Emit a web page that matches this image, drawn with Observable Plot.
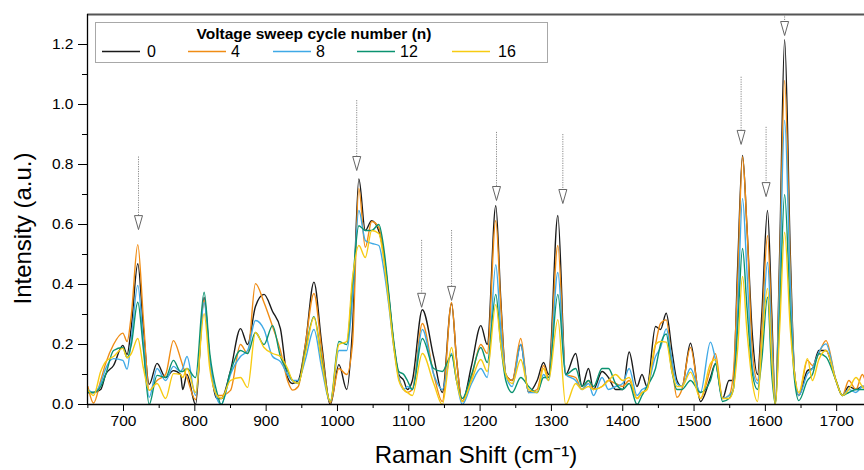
<!DOCTYPE html>
<html>
<head>
<meta charset="utf-8">
<script src="https://cdn.jsdelivr.net/npm/d3@7"></script>
<script src="https://cdn.jsdelivr.net/npm/@observablehq/plot@0.6"></script>
<style>
  body { margin: 0; background: white; }
  #wrap { position: relative; width: 864px; height: 470px; font-family: "Liberation Sans", Arial, sans-serif; }
  #legend { position: absolute; left: 0; top: 0; pointer-events: none; }
</style>
</head>
<body>
<div id="wrap"></div>
<script>
// Raman shift grid (cm^-1)
const wavenumber = [650,658,668,675,686,699,705,711,720,728,736,747,759,770,780,783,789,801,813,821,831,837,850,864,874,885,897,909,920,930,937,945,955,967,978,990,1002,1013,1021,1030,1039,1048,1058,1065,1072,1079,1086,1093,1098,1105,1119,1135,1147,1160,1167,1175,1188,1201,1210,1222,1229,1236,1245,1257,1268,1280,1289,1296,1309,1320,1334,1343,1352,1359,1371,1380,1390,1400,1409,1420,1427,1434,1446,1453,1461,1469,1476,1483,1495,1509,1523,1530,1540,1549,1555,1561,1568,1574,1582,1589,1595,1603,1609,1614,1620,1627,1635,1641,1647,1659,1666,1675,1685,1699,1708,1717,1727,1736,1740];

// Intensity (a.u.) for each voltage sweep cycle number
const n0  = [.04,.04,.05,.10,.13,.197,.167,.26,.469,.25,.067,.137,.09,.113,.10,.05,.10,.0,.357,.15,.02,.02,.113,.253,.20,.327,.367,.31,.253,.09,.07,.08,.2,.408,.2,.0,.133,.05,.25,.752,.58,.613,.578,.5,.36,.2,.1,.08,.05,.08,.316,.158,.04,.337,.15,.01,.13,.263,.2,.663,.35,.1,.08,.2,.04,.08,.14,.10,.63,.1,.17,.06,.12,.05,.11,.09,.05,.05,.175,.06,.10,.06,.26,.25,.304,.18,.08,.06,.204,.01,.09,.136,.02,.08,.08,.45,.83,.6,.224,.10,.3,.647,.3,.0,.5,1.216,.5,.102,.03,.113,.12,.18,.18,.08,.03,.06,.05,.06,.06];
const n4  = [.06,.005,.08,.137,.20,.238,.21,.30,.533,.28,.047,.08,.10,.213,.153,.13,.09,.016,.347,.15,.03,.03,.047,.20,.17,.403,.34,.26,.18,.08,.048,.06,.2,.37,.18,.005,.12,.10,.2,.72,.524,.61,.59,.5,.35,.2,.09,.05,.04,.05,.27,.10,.01,.34,.15,.01,.09,.20,.17,.613,.33,.1,.08,.22,.04,.05,.13,.09,.53,.1,.09,.05,.08,.05,.06,.08,.07,.06,.08,.02,.04,.05,.20,.27,.282,.136,.024,.05,.19,.02,.12,.169,.02,.03,.1,.4,.826,.6,.17,.08,.25,.563,.25,.0,.45,1.08,.45,.1,.03,.147,.13,.17,.213,.08,.03,.08,.05,.1,.08];
const n8  = [.05,.04,.07,.12,.153,.147,.118,.22,.397,.2,.024,.12,.08,.127,.11,.12,.16,.03,.34,.15,.02,.0,.10,.16,.18,.28,.25,.16,.143,.10,.08,.08,.15,.25,.12,.01,.18,.18,.35,.647,.547,.537,.53,.45,.33,.19,.09,.05,.06,.05,.25,.10,.05,.17,.08,.0,.07,.12,.09,.466,.25,.1,.06,.2,.04,.04,.10,.08,.44,.1,.08,.05,.07,.03,.09,.05,.06,.07,.12,.03,.05,.06,.16,.19,.252,.15,.07,.06,.12,.04,.208,.15,.02,.03,.05,.3,.687,.45,.12,.07,.2,.474,.2,.0,.4,.947,.4,.1,.03,.102,.12,.175,.202,.08,.03,.05,.04,.06,.06];
const n12 = [.04,.04,.06,.10,.18,.19,.156,.20,.341,.18,.0,.097,.09,.147,.11,.11,.12,.09,.374,.17,.04,.0,.11,.18,.17,.24,.20,.263,.16,.113,.08,.07,.18,.293,.15,.01,.21,.20,.4,.596,.58,.58,.60,.52,.37,.21,.11,.10,.08,.05,.22,.12,.11,.165,.08,.02,.10,.19,.14,.367,.2,.08,.04,.09,.06,.04,.09,.09,.367,.1,.12,.06,.08,.06,.12,.12,.07,.05,.07,.0,.03,.06,.12,.2,.235,.11,.05,.05,.08,.04,.08,.136,.01,.02,.05,.25,.52,.33,.10,.05,.15,.358,.1,.0,.3,.70,.3,.08,.013,.08,.10,.169,.158,.08,.03,.04,.05,.05,.05];
const n16 = [.05,.03,.11,.143,.16,.187,.156,.17,.22,.12,.047,.07,.02,.103,.10,.09,.12,.04,.303,.12,.03,.02,.08,.09,.057,.24,.19,.17,.16,.12,.08,.07,.17,.29,.14,.01,.20,.21,.42,.53,.49,.58,.57,.48,.34,.19,.08,.05,.04,.03,.17,.07,.0,.19,.08,.01,.08,.15,.11,.333,.2,.1,.07,.15,.05,.04,.12,.08,.283,.0,.07,.05,.06,.05,.06,.08,.10,.08,.09,.02,.04,.05,.20,.21,.208,.11,.06,.06,.108,.02,.136,.15,.02,.02,.05,.18,.427,.25,.07,.01,.2,.387,.15,.0,.25,.574,.25,.1,.04,.153,.08,.15,.18,.08,.03,.05,.09,.06,.05];

const cycles = ["0", "4", "8", "12", "16"];
const colors = ["#1a1a1a", "#f08c14", "#3fa9e6", "#0a9270", "#f7cb12"];
const series = [n0, n4, n8, n12, n16];

// Marked bands (dotted arrows)
const arrowX   = [721, 1027, 1118, 1160, 1223, 1316, 1566, 1601, 1627];
const arrowTop = [0.825, 1.013, 0.547, 0.58, 0.907, 0.90, 1.091, 0.924, 1.30];
const arrowTip = [0.583, 0.78, 0.324, 0.347, 0.68, 0.67, 0.867, 0.693, 1.23];

const xTicks = [700, 800, 900, 1000, 1100, 1200, 1300, 1400, 1500, 1600, 1700];
const xMinor = [650, 750, 850, 950, 1050, 1150, 1250, 1350, 1450, 1550, 1650];
const yTicks = [0, 0.2, 0.4, 0.6, 0.8, 1.0, 1.2];
const yMinor = [0.1, 0.3, 0.5, 0.7, 0.9, 1.1];

const rows = cycles.flatMap((c, i) => wavenumber.map((x, j) => ({x, y: series[i][j], n: c})));
const arrows = arrowX.map((x, i) => ({x, top: arrowTop[i], tip: arrowTip[i]}));

const xMin = 649.5, xMax = 1739, yMax = 1.3;

const narrowTriangle = {
  draw(context) {
    context.moveTo(-4, -14);
    context.lineTo(4, -14);
    context.lineTo(0, 0);
    context.closePath();
  }
};

const chart = Plot.plot({
  width: 864,
  height: 470,
  marginLeft: 87,
  marginRight: 0,
  marginTop: 14,
  marginBottom: 66,
  x: {domain: [xMin, xMax]},
  y: {domain: [0, yMax]},
  color: {domain: cycles, range: colors},
  style: {fontFamily: "Liberation Sans, Arial, sans-serif", fontSize: "15.5px", background: "white", overflow: "visible"},
  marks: [
    Plot.lineY(rows, {x: "x", y: "y", z: "n", stroke: "n", strokeWidth: 1.4, curve: "monotone-x", clip: true}),
    Plot.ruleX(arrows, {x: "x", y1: "top", y2: "tip", stroke: "#8a8a8a", strokeWidth: 1, strokeDasharray: "1.2,1.2"}),
    Plot.dot(arrows, {x: "x", y: "tip", symbol: narrowTriangle, r: 5, fill: "white", stroke: "#666", strokeWidth: 1}),
    Plot.ruleY([yMax], {stroke: "#555", strokeWidth: 2}),
    Plot.ruleY([0], {stroke: "black", strokeWidth: 1.3}),
    Plot.ruleX([xMin], {stroke: "black", strokeWidth: 1.3}),
    Plot.axisX({ticks: xTicks, tickSize: 7, tickPadding: 3, tickFormat: d => String(d), label: null, fontSize: 15.5}),
    Plot.axisX({ticks: xMinor, tickSize: 4, tickFormat: () => "", label: null}),
    Plot.axisY({ticks: yTicks, tickSize: 9, tickPadding: 5, tickFormat: d3.format(".1f"), label: null, fontSize: 15.5}),
    Plot.axisY({ticks: yMinor, tickSize: 5, tickFormat: () => "", label: null}),
    Plot.text(["Intensity (a.u.)"], {text: d => d, frameAnchor: "left", dx: -64, dy: 19, rotate: -90, fontSize: 24, lineAnchor: "middle", textAnchor: "middle"}),
    Plot.text(["Raman Shift (cm\u207B\u00B9)"], {text: d => d, frameAnchor: "bottom", dy: 51, fontSize: 24, lineAnchor: "middle", textAnchor: "middle"})
  ]
});

const wrap = document.getElementById("wrap");
wrap.appendChild(chart);

// Legend overlay
const leg = d3.select(wrap).append("svg")
  .attr("id", "legend")
  .attr("width", 864).attr("height", 470)
  .style("font-family", "Liberation Sans, Arial, sans-serif");
leg.append("rect")
  .attr("x", 95.5).attr("y", 22.5).attr("width", 452).attr("height", 40)
  .attr("fill", "white").attr("stroke", "#a8a8a8").attr("stroke-width", 1);
leg.append("text")
  .attr("x", 314).attr("y", 33.5).attr("dominant-baseline", "central")
  .attr("text-anchor", "middle").attr("font-weight", "bold").attr("font-size", 15.5)
  .text("Voltage sweep cycle number (n)");
const legX = [102, 188, 273, 357, 452];
const legGap = [7, 5, 5, 5, 8];
cycles.forEach((c, i) => {
  leg.append("line")
    .attr("x1", legX[i]).attr("x2", legX[i] + 38)
    .attr("y1", 51.5).attr("y2", 51.5)
    .attr("stroke", colors[i]).attr("stroke-width", 1.4);
  leg.append("text")
    .attr("x", legX[i] + 38 + legGap[i]).attr("y", 51.5)
    .attr("dominant-baseline", "central").attr("font-size", 16)
    .text(c);
});
</script>
</body>
</html>
